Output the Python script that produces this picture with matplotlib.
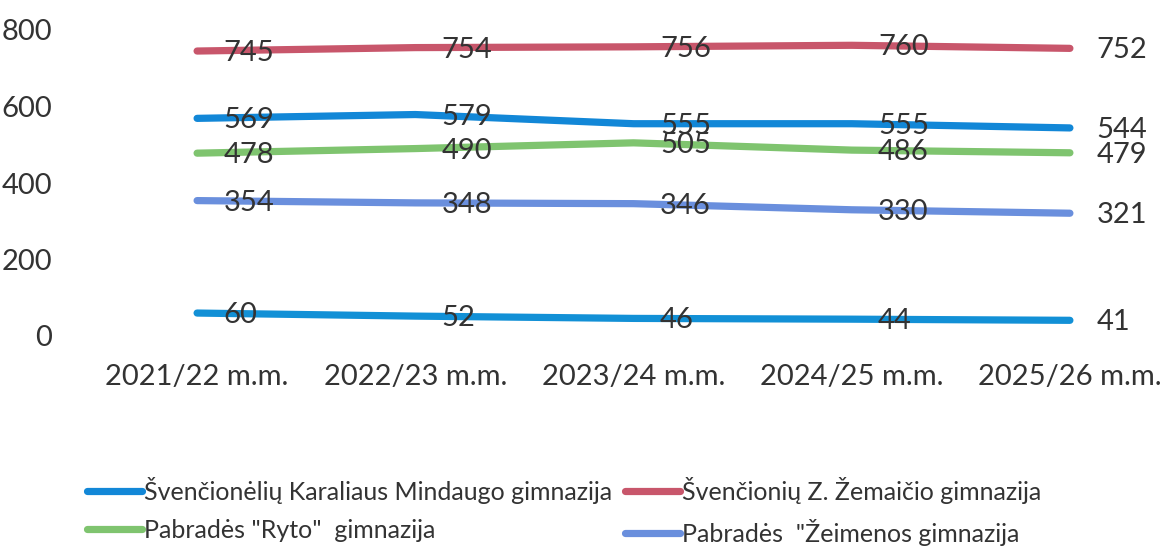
import matplotlib
matplotlib.use("Agg")
import matplotlib.pyplot as plt

categories = ["2021/22 m.m.", "2022/23 m.m.", "2023/24 m.m.", "2024/25 m.m.", "2025/26 m.m."]
karaliaus = [569, 579, 555, 555, 544]
zemaicio = [745, 754, 756, 760, 752]
ryto = [478, 490, 505, 486, 479]
zeimenos = [354, 348, 346, 330, 321]
fifth = [60, 52, 46, 44, 41]

series = [
    ("Švenčionėlių Karaliaus Mindaugo gimnazija", karaliaus, "#1287d7"),
    ("Švenčionių Z. Žemaičio gimnazija", zemaicio, "#c8566b"),
    ("Pabradės \"Ryto\"  gimnazija", ryto, "#7fc46f"),
    ("Pabradės  \"Žeimenos gimnazija", zeimenos, "#6a8fdd"),
    ("_fifth", fifth, "#1290d6"),
]

plt.rcParams['font.family'] = ['Lato', 'DejaVu Sans']
fig = plt.figure(figsize=(11.68, 5.47), dpi=100)
ax = fig.add_axes([88/1168, 211/547, (1179-88)/1168, 306/547])

x = list(range(len(categories)))
handles = []
for name, vals, col in series:
    ln, = ax.plot(x, vals, color=col, lw=5.2, solid_capstyle='round', label=name, zorder=2)
    handles.append(ln)
    for xi, v in zip(x, vals):
        ax.annotate(str(v), (xi, v), xytext=(19, -1.5), textcoords='offset points',
                    ha='left', va='center', fontsize=21, color='#333333', zorder=3)

ax.set_xlim(-0.5, 4.5)
ax.set_ylim(0, 800)
ax.set_yticks([0, 200, 400, 600, 800])
ax.set_xticks(x)
ax.set_xticklabels(categories)
ax.tick_params(axis='both', length=0, labelsize=21, colors='#333333')
ax.tick_params(axis='x', pad=20)
ax.tick_params(axis='y', pad=26)
for s in ax.spines.values():
    s.set_visible(False)

order = [handles[0], handles[2], handles[1], handles[3]]
leg = fig.legend(handles=order, labels=[h.get_label() for h in order],
                 loc='upper left', bbox_to_anchor=(64/1168, 1-454/547), ncol=2, frameon=False,
                 fontsize=18, handlelength=2.2, handletextpad=0.1, columnspacing=0.5,
                 labelspacing=0.62, labelcolor='#333333')

fig.savefig("out.png", dpi=100)
